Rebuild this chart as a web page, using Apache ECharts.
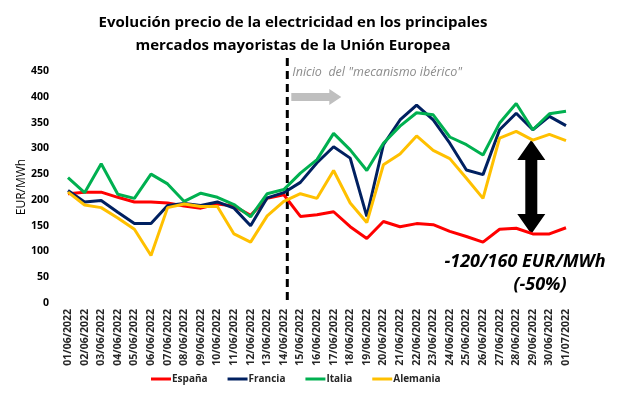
<!DOCTYPE html>
<html><head><meta charset="utf-8">
<script src="https://cdn.jsdelivr.net/npm/echarts@6/dist/echarts.min.js"></script>
<style>html,body{margin:0;padding:0;background:#fff}#c{width:639px;height:397px}</style>
</head><body><div id="c"></div>
<script>
const dates = ['01/06/2022','02/06/2022','03/06/2022','04/06/2022','05/06/2022','06/06/2022','07/06/2022','08/06/2022','09/06/2022','10/06/2022','11/06/2022','12/06/2022','13/06/2022','14/06/2022','15/06/2022','16/06/2022','17/06/2022','18/06/2022','19/06/2022','20/06/2022','21/06/2022','22/06/2022','23/06/2022','24/06/2022','25/06/2022','26/06/2022','27/06/2022','28/06/2022','29/06/2022','30/06/2022','01/07/2022'];
const espana   = [212,215,215,205,196,196,194,188,184,192,188,170,203,210,168,171,177,148,125,158,148,154,152,139,129,118,143,145,134,134,146];
const francia  = [218,196,199,176,154,154,189,193,189,196,184,150,204,214,234,272,303,281,168,307,355,384,355,310,258,249,336,368,336,362,344];
const italia   = [243,214,270,211,203,250,231,197,213,205,191,167,212,220,252,278,329,297,257,310,343,369,365,322,307,287,349,387,336,367,372];
const alemania = [215,190,185,165,143,92,185,192,187,187,134,118,169,197,212,203,257,194,156,268,289,324,296,280,242,203,320,333,316,327,315];
const seriesNames = ['España','Francia','Italia','Alemania'];
const yMin = 0, yMax = 450, yStep = 50;
const titleText = 'Evolución precio de la electricidad en los principales\nmercados mayoristas de la Unión Europea';
const startLabel = 'Inicio  del "mecanismo ibérico"';
const startDate = '14/06/2022';
const arrowDate = '29/06/2022';
const arrowTop = 316, arrowBottom = 134;
const diffText = '-120/160 EUR/MWh';
const pctText = '(-50%)';

const colors = ['#ff0000','#002060','#00b050','#ffc000'];
const FONT = "'Open Sans', sans-serif";
const chart = echarts.init(document.getElementById('c'));
const mk = (name, data, i) => ({
  name, type: 'line', data, symbol: 'none', smooth: false,
  lineStyle: { width: 3, color: colors[i] }, itemStyle: { color: colors[i] }
});
chart.setOption({
  animation: false,
  grid: { left: 68, right: 73, top: 71, bottom: 94 },
  legend: {
    data: seriesNames, bottom: 8, left: 146, itemWidth: 20, itemHeight: 3, itemGap: 20,
    icon: 'rect',
    textStyle: { fontFamily: FONT, fontSize: 10, fontWeight: 'bold', color: '#262626', padding: [0,0,0,-4] }
  },
  xAxis: {
    type: 'category', data: dates, boundaryGap: false,
    axisLine: { show: false }, axisTick: { show: false },
    axisLabel: { rotate: 90, interval: 0, fontFamily: FONT, fontSize: 10.5, fontWeight: 'bold', color: '#262626', margin: 6 }
  },
  yAxis: {
    type: 'value', min: yMin, max: yMax, interval: yStep,
    name: 'EUR/MWh', nameLocation: 'middle', nameGap: 40, nameMoveOverlap: false,
    nameTextStyle: { fontFamily: FONT, fontSize: 12, color: '#000' },
    splitLine: { show: false }, axisLine: { show: false }, axisTick: { show: false },
    axisLabel: { fontFamily: FONT, fontSize: 10.5, fontWeight: 'bold', color: '#000', margin: 19 }
  },
  series: [mk(seriesNames[0], espana, 0), mk(seriesNames[1], francia, 1), mk(seriesNames[2], italia, 2), mk(seriesNames[3], alemania, 3)]
});

const xs = chart.convertToPixel({ xAxisIndex: 0 }, startDate) + 3.5;
const xa = chart.convertToPixel({ xAxisIndex: 0 }, arrowDate) - 1.5;
const yTop = chart.convertToPixel({ yAxisIndex: 0 }, arrowTop);
const yBot = chart.convertToPixel({ yAxisIndex: 0 }, arrowBottom);
const hw = 14, sw = 6, hh = 20;
chart.setOption({
  graphic: [
    { type: 'text', x: 293, y: 11, style: { text: titleText, fontFamily: FONT, fontSize: 15, fontWeight: 'bold', fill: '#000', align: 'center', lineHeight: 23 } },
    { type: 'line', shape: { x1: xs, y1: 58, x2: xs, y2: 302 }, style: { stroke: '#000', lineWidth: 3, lineDash: [8, 5] } },
    { type: 'text', x: xs + 5, y: 66, style: { text: startLabel, fontFamily: FONT, fontSize: 12.5, fontStyle: 'italic', fill: '#8c8c8c' } },
    { type: 'polygon', shape: { points: [[xs+4,93],[xs+42,93],[xs+42,89],[xs+54,97],[xs+42,105],[xs+42,101],[xs+4,101]] }, style: { fill: '#bfbfbf' } },
    { type: 'polygon', shape: { points: [[xa,yTop],[xa+hw,yTop+hh],[xa+sw,yTop+hh],[xa+sw,yBot-hh],[xa+hw,yBot-hh],[xa,yBot],[xa-hw,yBot-hh],[xa-sw,yBot-hh],[xa-sw,yTop+hh],[xa-hw,yTop+hh]] }, style: { fill: '#000' } },
    { type: 'text', x: 525, y: 262, style: { text: diffText, fontFamily: FONT, fontSize: 18, fontStyle: 'italic', fontWeight: 'bold', fill: '#000', align: 'center', verticalAlign: 'middle' } },
    { type: 'text', x: 540, y: 285, style: { text: pctText, fontFamily: FONT, fontSize: 18, fontStyle: 'italic', fontWeight: 'bold', fill: '#000', align: 'center', verticalAlign: 'middle' } }
  ]
});
</script></body></html>
